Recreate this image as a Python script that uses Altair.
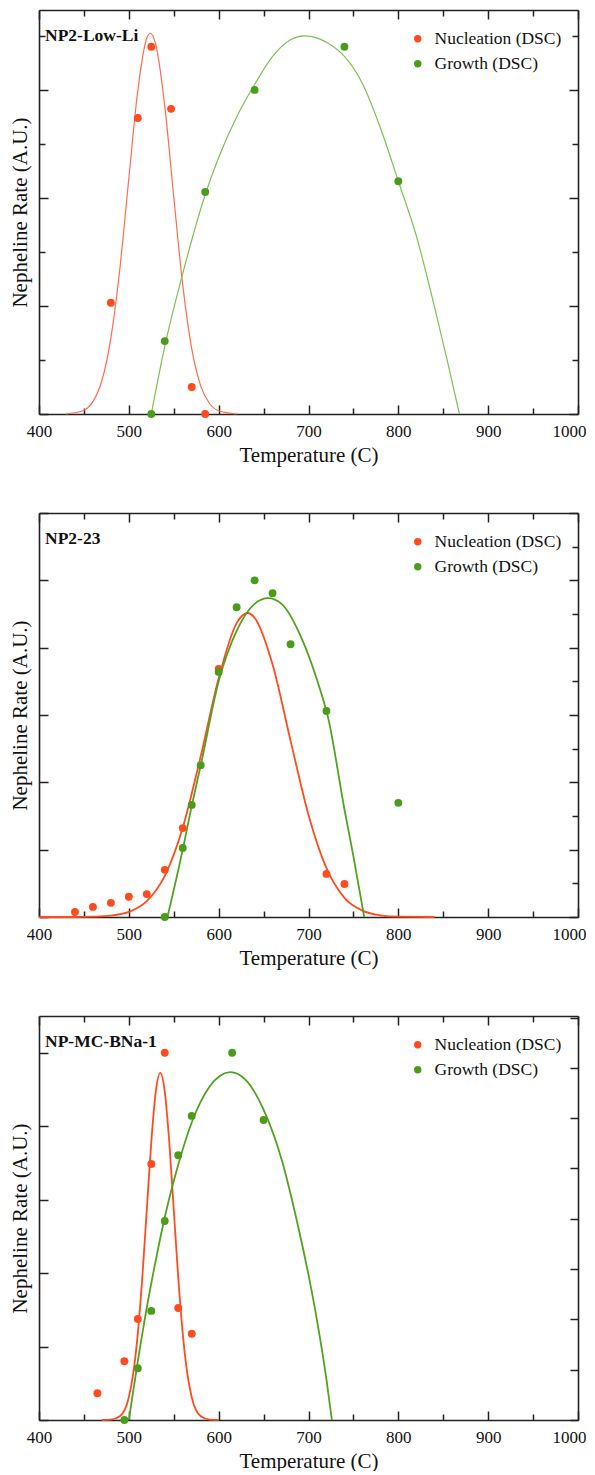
import altair as alt
import pandas as pd

FONT = "Liberation Serif"
NUC = "Nucleation (DSC)"
GRO = "Growth (DSC)"

# ---------------- Panel 1: NP2-Low-Li ----------------
p1_nuc_T = [480, 510, 525, 547, 570, 585]
p1_nuc_V = [2.06, 5.48, 6.80, 5.65, 0.50, 0.0]
p1_gro_T = [525, 540, 585, 640, 740, 800]
p1_gro_V = [0.0, 1.35, 4.11, 6.0, 6.8, 4.31]
p1_nucfit_T = [430, 450, 470, 480, 490, 500, 510, 520, 524, 530, 540, 550, 560, 570, 580, 590, 600, 620]
p1_nucfit_V = [0.0, 0.07, 0.62, 1.41, 2.69, 4.36, 5.99, 6.96, 7.05, 6.84, 5.70, 4.02, 2.39, 1.21, 0.52, 0.19, 0.06, 0.0]
p1_grofit_T = [525, 540, 560, 585, 600, 620, 640, 660, 680, 695, 710, 725, 740, 760, 780, 800, 820, 840, 855, 868]
p1_grofit_V = [0.0, 1.25, 2.6, 4.06, 4.75, 5.5, 6.1, 6.62, 6.93, 7.0, 6.96, 6.83, 6.62, 6.12, 5.3, 4.31, 3.3, 2.0, 0.95, 0.0]

# ---------------- Panel 2: NP2-23 ----------------
p2_nuc_T = [440, 460, 480, 500, 520, 540, 560, 600, 720, 740]
p2_nuc_V = [0.15, 0.3, 0.42, 0.6, 0.68, 1.4, 2.64, 7.37, 1.28, 0.98]
p2_gro_T = [540, 560, 570, 580, 600, 620, 640, 660, 680, 720, 800]
p2_gro_V = [0.0, 2.05, 3.33, 4.51, 7.28, 9.2, 10.0, 9.62, 8.1, 6.12, 3.39]
p2_nucfit_T = [400, 440, 460, 480, 500, 520, 540, 560, 580, 600, 620, 632, 640, 660, 680, 700, 720, 740, 760, 780, 800, 840]
p2_nucfit_V = [0.0, 0.0, 0.01, 0.04, 0.15, 0.47, 1.22, 2.65, 4.77, 7.09, 8.73, 9.03, 8.89, 7.5, 5.24, 3.03, 1.45, 0.57, 0.19, 0.05, 0.01, 0.0]
p2_grofit_T = [543, 560, 570, 580, 600, 620, 640, 655, 670, 692, 710, 722, 740, 750, 762]
p2_grofit_V = [0.0, 2.0, 3.3, 4.5, 7.0, 8.5, 9.3, 9.47, 9.3, 8.3, 7.0, 5.9, 3.2, 1.8, 0.0]

# ---------------- Panel 3: NP-MC-BNa-1 ----------------
p3_nuc_T = [465, 495, 510, 525, 540, 555, 570]
p3_nuc_V = [0.73, 1.6, 2.75, 6.97, 10.0, 3.05, 2.35]
p3_gro_T = [495, 510, 525, 540, 555, 570, 615, 650]
p3_gro_V = [0.0, 1.41, 2.97, 5.42, 7.21, 8.28, 10.0, 8.17]
p3_nucfit_T = [470, 480, 490, 500, 505, 510, 515, 520, 525, 530, 535, 540, 545, 550, 555, 560, 565, 570, 580, 590, 600]
p3_nucfit_V = [0.0, 0.01, 0.1, 0.62, 1.28, 2.36, 3.88, 5.73, 7.57, 8.94, 9.45, 8.94, 7.57, 5.73, 3.88, 2.36, 1.28, 0.62, 0.1, 0.01, 0.0]
p3_grofit_T = [500, 510, 520, 530, 540, 555, 570, 590, 613, 630, 650, 670, 690, 700, 710, 720, 726]
p3_grofit_V = [0.0, 1.6, 3.06, 4.35, 5.52, 6.95, 8.1, 9.08, 9.47, 9.26, 8.45, 7.1, 5.1, 3.95, 2.64, 1.1, 0.0]

x_ticks = [400, 450, 500, 550, 600, 650, 700, 750, 800, 850, 900, 950, 1000]

PT_COLORS = ["#ff4b1e", "#4c9c1c"]

W, H = 539, 404


def panel(name, nT, nV, gT, gV, nfT, nfV, gfT, gfV, ytop, yticks, rtop, rticks, rexpr,
          line_colors, line_w):
    pts = pd.DataFrame({"T": nT + gT, "V": nV + gV,
                        "S": [NUC] * len(nT) + [GRO] * len(gT)})
    fit = pd.DataFrame({"T": nfT + gfT, "V": nfV + gfV,
                        "L": ["nuc_fit"] * len(nfT) + ["gro_fit"] * len(gfT)})
    xs = alt.Scale(domain=[400, 1000], nice=False, zero=False)
    ys = alt.Scale(domain=[0, ytop], nice=False, zero=False)

    x_bottom = alt.Axis(values=x_ticks, format="d", title="Temperature (C)",
                        labelExpr="datum.value % 100 === 0 ? datum.label : ''",
                        tickSize=alt.ExprRef(expr="datum.value % 100 === 0 ? -9 : -6"),
                        labelAlign=alt.ExprRef(expr="datum.value === 1000 ? 'right' : 'center'"),
                        labelOffset=alt.ExprRef(expr="datum.value === 1000 ? 8 : 0"),
                        labelPadding=18, titlePadding=5, labelFlush=False)
    y_left = alt.Axis(values=yticks, labels=False, title="Nepheline Rate (A.U.)",
                      tickSize=alt.ExprRef(expr="datum.value % 2 === 0 ? -9 : -6"),
                      titlePadding=8)
    x_top = alt.Axis(values=x_ticks, labels=False, title=None, orient="top",
                     tickSize=alt.ExprRef(expr="datum.value % 100 === 0 ? -9 : -6"))
    y_right = alt.Axis(values=rticks, labels=False, title=None, orient="right",
                       tickSize=alt.ExprRef(expr=rexpr))

    lines = alt.Chart(fit).mark_line(interpolate="monotone", strokeWidth=line_w).encode(
        x=alt.X("T:Q", scale=xs, axis=x_bottom),
        y=alt.Y("V:Q", scale=ys, axis=y_left),
        stroke=alt.Stroke("L:N", scale=alt.Scale(domain=["nuc_fit", "gro_fit"], range=line_colors),
                          legend=None),
    )
    dots = alt.Chart(pts).mark_circle(size=62, opacity=1).encode(
        x=alt.X("T:Q", scale=xs),
        y=alt.Y("V:Q", scale=ys),
        color=alt.Color("S:N", scale=alt.Scale(domain=[NUC, GRO], range=PT_COLORS),
                        legend=alt.Legend(orient="none", legendX=370, legendY=20, title=None,
                                          labelFont=FONT, labelFontSize=17.5, labelColor="#111",
                                          symbolType="circle", symbolSize=55, symbolStrokeWidth=0,
                                          labelOffset=8, rowPadding=6, padding=0)),
    )
    label = alt.Chart(pd.DataFrame({"label": [name]})).mark_text(
        align="left", baseline="middle", font=FONT, fontSize=17.5, fontWeight="bold", color="#111"
    ).encode(text="label:N", x=alt.value(6), y=alt.value(26))

    inner = alt.layer(lines, dots, label)
    dummy = alt.Chart(pd.DataFrame({"T": [400], "V": [0]})).mark_point(opacity=0).encode(
        x=alt.X("T:Q", scale=xs, axis=x_top),
        y=alt.Y("V:Q", scale=alt.Scale(domain=[0, rtop], nice=False, zero=False), axis=y_right),
    )
    return alt.layer(inner, dummy).resolve_scale(y="independent").resolve_axis(
        x="independent", y="independent").properties(width=W, height=H)


thin = ["#ff6c4c", "#7fc052"]
thick = ["#ff4b1e", "#4fa31f"]

c1 = panel("NP2-Low-Li", p1_nuc_T, p1_nuc_V, p1_gro_T, p1_gro_V, p1_nucfit_T, p1_nucfit_V,
           p1_grofit_T, p1_grofit_V, 7.48, list(range(0, 8)), 7.48, list(range(0, 8)),
           "datum.value % 2 === 0 ? -9 : -6", thin, 1.2)
c2 = panel("NP2-23", p2_nuc_T, p2_nuc_V, p2_gro_T, p2_gro_V, p2_nucfit_T, p2_nucfit_V,
           p2_grofit_T, p2_grofit_V, 12.0, list(range(0, 13)), 12.0, list(range(0, 13)),
           "datum.value % 2 === 0 ? -9 : -6", thick, 1.8)
c3 = panel("NP-MC-BNa-1", p3_nuc_T, p3_nuc_V, p3_gro_T, p3_gro_V, p3_nucfit_T, p3_nucfit_V,
           p3_grofit_T, p3_grofit_V, 11.0, list(range(0, 12)), 8.03, list(range(0, 9)),
           "-8", thick, 1.8)

chart = alt.vconcat(c1, c2, c3, spacing=47).resolve_scale(
    x="independent", y="independent", color="independent", stroke="independent"
).properties(
    padding={"left": 1, "top": 1, "right": 0, "bottom": 0}
).configure_view(stroke=None).configure_axis(
    grid=False, domainColor="#222", domainWidth=1.6, tickColor="#222", tickWidth=1.5,
    labelFont=FONT, labelFontSize=17, labelColor="#111",
    titleFont=FONT, titleFontSize=21, titleFontWeight="normal", titleColor="#111",
)

chart.save("out.html", embed_options={"renderer": "svg", "actions": False})
